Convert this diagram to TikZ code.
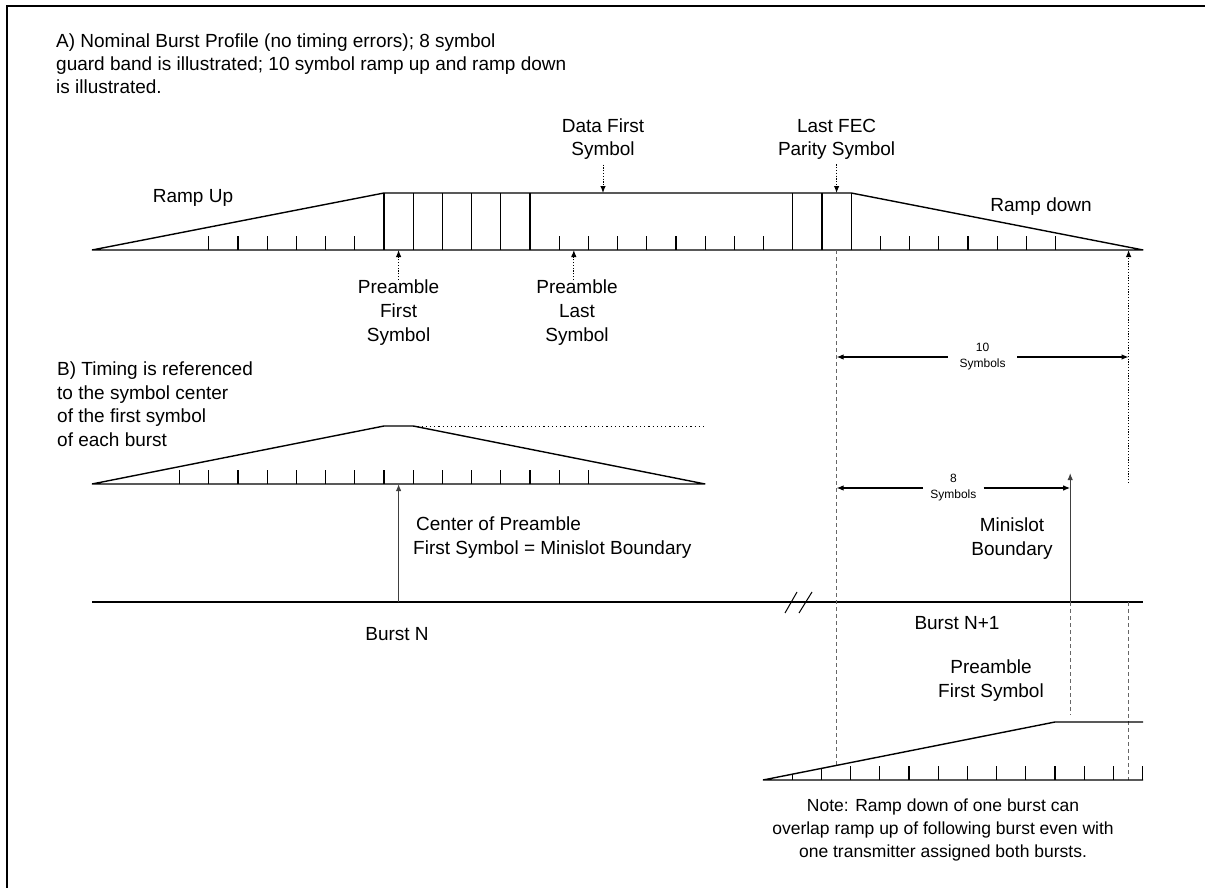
\documentclass[tikz,border=0pt]{standalone}
\usepackage{fontspec}
\setmainfont{Liberation Sans}
\usetikzlibrary{positioning}
\usetikzlibrary{calc}
\usetikzlibrary{arrows.meta}

\begin{document}
\begin{tikzpicture}[x=1pt,y=-1pt,>={Latex[length=7pt,width=5.5pt]},
    baseln/.style={line width=1.4pt},
    symtick/.style={line width=1.1pt},
    guideln/.style={black!60, line width=1pt, dash pattern=on 4pt off 3pt},
    hintarrow/.style={->, line width=1pt, dash pattern=on 1.2pt off 1.6pt},
    lbl/.style={font=\fontsize{19}{24}\selectfont, align=center, inner sep=0pt},
    symlbl/.style={font=\fontsize{12}{16}\selectfont, align=center, inner ysep=0pt}]
        \useasboundingbox (0,0) rectangle (1205,888);
        % frame %
        \draw[line width=2pt] (7,888) -- (7,6) -- (1205,6);
        % texts %
        \node[lbl, align=left, anchor=west, font=\fontsize{19}{23}\selectfont] (profA) at (56,64) {A) Nominal Burst Profile (no timing errors); 8 symbol\\guard band is illustrated; 10 symbol ramp up and ramp down\\is illustrated.};
        \node[lbl, align=left, anchor=west, font=\fontsize{19}{23.5}\selectfont] (profB) at (57,404) {B) Timing is referenced\\to the symbol center\\of the first symbol\\of each burst};
        % burst A %
        \coordinate (a0) at (92,250);
        \coordinate (a1) at (384,193);
        \coordinate (a2) at (851.2,193);
        \coordinate (a3) at (1143.2,250);
        \draw[baseln] (a0) -- (a1) -- (a2) -- (a3) -- cycle;
        \foreach \k in {0,...,5}
            \draw[symtick] ({384+\k*29.2},193) -- ({384+\k*29.2},250);
        \foreach \x in {792.8,822,851.2}
            \draw[symtick] (\x,193) -- (\x,250);
        \foreach \k in {1,...,6}
            \draw[symtick] ({384-\k*29.2},250) -- ++(0,-14);
        \foreach \k in {1,...,8}
            \draw[symtick] ({530+\k*29.2},250) -- ++(0,-14);
        \foreach \k in {1,...,7}
            \draw[symtick] ({851.2+\k*29.2},250) -- ++(0,-14);
        \node[lbl] (rampup) at (193,198) {Ramp Up};
        \node[lbl] (rampdn) at (1041,207) {Ramp down};
        \node[lbl, font=\fontsize{19}{23}\selectfont] (datafirst) at (603,139) {Data First\\Symbol};
        \node[lbl, font=\fontsize{19}{23}\selectfont] (lastfec) at (836.6,139) {Last FEC\\Parity Symbol};
        \node[lbl] (pfirst) at (398.6,313) {Preamble\\First\\Symbol};
        \node[lbl] (plast) at (577,313) {Preamble\\Last\\Symbol};
        \coordinate (dfs) at (603,193);
        \coordinate (lfs) at (836.6,193);
        \coordinate (pft) at (398.6,250);
        \coordinate (plt) at (573.8,250);
        \draw[hintarrow, shorten <=5pt] (datafirst) -- (dfs);
        \draw[hintarrow, shorten <=5pt] (lastfec) -- (lfs);
        \draw[hintarrow] (pfirst) -- (pft);
        \draw[hintarrow] (plast.north -| plt) -- (plt);
        % burst B %
        \coordinate (b0) at (92,484);
        \coordinate (b1) at (384,426);
        \coordinate (b2) at (413.2,426);
        \coordinate (b3) at (705.2,484);
        \coordinate (b4) at (705.2,426);
        \draw[baseln] (b0) -- (b1) -- (b2) -- (b3) -- cycle;
        \draw[line width=1pt, dash pattern=on 1.2pt off 3pt] (b2) -- (b4);
        \foreach \k in {-7,...,7}
            \draw[symtick] ({384+\k*29.2},484) -- ++(0,-14);
        % burst line %
        \coordinate (n0) at (92,602);
        \coordinate (n1) at (1143.2,602);
        \draw[baseln] (n0) -- (n1);
        \draw[line width=1pt] (785,613) -- (797,592) (799,613) -- (812,592);
        \node[lbl] (bn) at (397,634) {Burst N};
        \node[lbl] (bn1) at (957,623) {Burst N+1};
        % minislot arrows %
        \coordinate (cp0) at (398.6,602);
        \coordinate (cp1) at (398.6,484);
        \coordinate (ms0) at (1070.2,602);
        \coordinate (ms1) at (1070.2,473);
        \coordinate (ms2) at (1070.2,715);
        \draw[->, black!75, line width=1.2pt] (cp0) -- (cp1);
        \draw[->, black!75, line width=1.2pt] (ms0) -- (ms1);
        \draw[guideln] (ms0) -- (ms2);
        \node[lbl, align=left, anchor=west] (cpre) at (413,538) {\hspace*{3pt}Center of Preamble\\First Symbol = Minislot Boundary};
        \node[lbl] (msb) at (1012,539) {Minislot\\Boundary};
        \node[lbl] (pfs) at (991,681) {Preamble\\First Symbol};
        % guides %
        \coordinate (g0) at (836.6,250);
        \coordinate (g1) at (836.6,765.4);
        \draw[guideln] (g0) -- (g1);
        \coordinate (r0) at (1128.6,483);
        \coordinate (r1) at (1128.6,250);
        \coordinate (r2) at (1128.6,602);
        \coordinate (r3) at (1128.6,780);
        \draw[hintarrow] (r0) -- (r1);
        \draw[guideln] (r2) -- (r3);
        % symbol counts %
        \coordinate (t10l) at (836.6,357);
        \coordinate (t10r) at (1128.6,357);
        \node[symlbl, inner xsep=11.5pt] (ten) at ($(t10l)!0.5!(t10r)$) {10\\Symbols};
        \draw[->, line width=1.2pt] (ten.west) -- (t10l);
        \draw[->, line width=1.2pt] (ten.east) -- (t10r);
        \coordinate (e8l) at (836.6,488);
        \coordinate (e8r) at (1070.2,488);
        \node[symlbl, inner xsep=7pt] (eight) at ($(e8l)!0.5!(e8r)$) {8\\Symbols};
        \draw[->, line width=1.2pt] (eight.west) -- (e8l);
        \draw[->, line width=1.2pt] (eight.east) -- (e8r);
        % burst N+1 %
        \coordinate (c0) at (763,780);
        \coordinate (c1) at (1055,722);
        \coordinate (c2) at (1143.2,722);
        \coordinate (c3) at (1143.2,780);
        \draw[baseln] (c3) -- (c0) -- (c1) -- (c2);
        \foreach \k in {1,2}
            \draw[symtick] ({763+\k*29.2},780) -- ++(0,{-5.8*\k});
        \foreach \k in {3,...,13}
            \draw[symtick] ({763+\k*29.2},780) -- ++(0,-14);
        \node[lbl, font=\fontsize{17.5}{23}\selectfont] (note) at (943,830) {Note: Ramp down of one burst can\\overlap ramp up of following burst even with\\one transmitter assigned both bursts.};
\end{tikzpicture}
\end{document}
